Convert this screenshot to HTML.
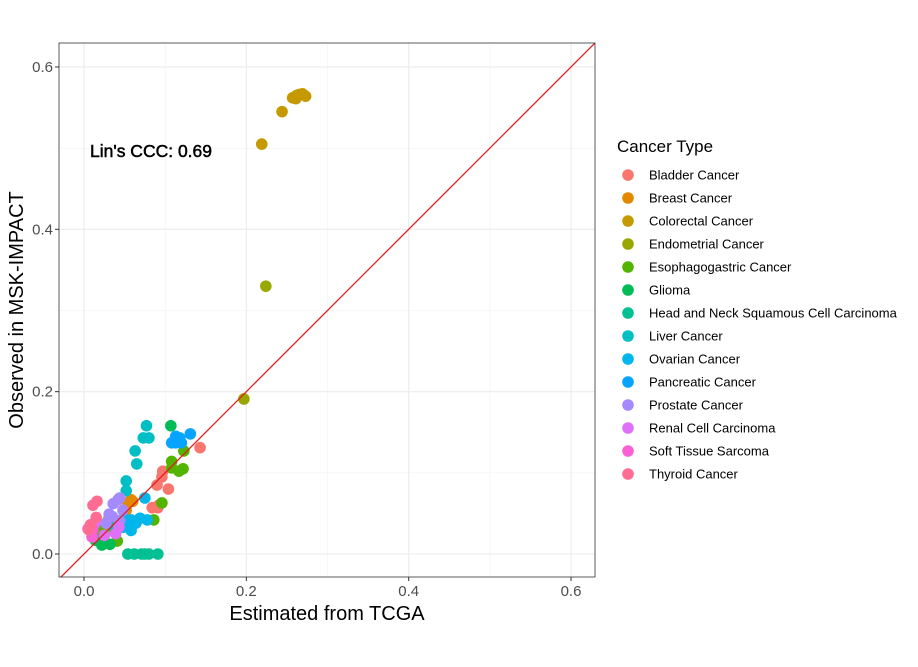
<!DOCTYPE html>
<html><head><meta charset="utf-8"><style>
body{margin:0;background:#fff;}
svg{display:block;font-family:"Liberation Sans",Arial,sans-serif;}
</style></head><body>
<svg id="chart" width="918" height="667"></svg>
<script>
const categories=["Bladder Cancer","Breast Cancer","Colorectal Cancer","Endometrial Cancer","Esophagogastric Cancer","Glioma","Head and Neck Squamous Cell Carcinoma","Liver Cancer","Ovarian Cancer","Pancreatic Cancer","Prostate Cancer","Renal Cell Carcinoma","Soft Tissue Sarcoma","Thyroid Cancer"];
const colors=["#F8766D","#E38900","#C49A00","#99A800","#53B400","#00BC56","#00C094","#00BFC4","#00B6EB","#06A4FF","#A58AFF","#DF70F8","#FB61D7","#FF6C91"];
const xTicks=[0,0.2,0.4,0.6];
const yTicks=[0,0.2,0.4,0.6];
const tickLabels=["0.0","0.2","0.4","0.6"];
const pts0=[[0.143,0.131],[0.097,0.102],[0.104,0.080],[0.090,0.085],[0.084,0.057],[0.091,0.057],[0.096,0.095],[0.092,0.060]];
const pts1=[[0.054,0.063],[0.058,0.067],[0.052,0.054],[0.025,0.032],[0.060,0.065]];
const pts2=[[0.219,0.505],[0.244,0.545],[0.257,0.562],[0.262,0.565],[0.265,0.566],[0.269,0.567],[0.273,0.564],[0.261,0.561]];
const pts3=[[0.224,0.330],[0.197,0.191],[0.030,0.042],[0.037,0.030],[0.020,0.026]];
const pts4=[[0.086,0.042],[0.096,0.063],[0.108,0.106],[0.117,0.102],[0.122,0.105],[0.123,0.127],[0.108,0.114],[0.041,0.016],[0.020,0.030]];
const pts5=[[0.107,0.158],[0.014,0.017],[0.022,0.011],[0.032,0.012],[0.010,0.021]];
const pts6=[[0.054,0],[0.062,0],[0.071,0],[0.075,0],[0.080,0],[0.091,0],[0.037,0.033]];
const pts7=[[0.073,0.143],[0.080,0.143],[0.077,0.158],[0.063,0.127],[0.065,0.111],[0.052,0.090],[0.052,0.078],[0.058,0.042]];
const pts8=[[0.075,0.069],[0.078,0.042],[0.069,0.044],[0.057,0.041],[0.049,0.044],[0.048,0.033],[0.064,0.038],[0.058,0.029]];
const pts9=[[0.131,0.148],[0.113,0.145],[0.118,0.143],[0.111,0.139],[0.120,0.137],[0.113,0.137],[0.108,0.137]];
const pts10=[[0.036,0.062],[0.042,0.067],[0.044,0.069],[0.035,0.046],[0.031,0.049],[0.048,0.054],[0.044,0.041],[0.027,0.038]];
const pts11=[[0.013,0.037],[0.015,0.044],[0.006,0.030],[0.025,0.023],[0.039,0.025],[0.043,0.033]];
const pts12=[[0.005,0.031],[0.011,0.030],[0.010,0.021]];
const pts13=[[0.011,0.060],[0.016,0.065],[0.015,0.045],[0.006,0.030],[0.008,0.036]];
const series=[pts0,pts1,pts2,pts3,pts4,pts5,pts6,pts7,pts8,pts9,pts10,pts11,pts12,pts13];

const NS="http://www.w3.org/2000/svg";
const svg=document.getElementById('chart');
const L=59,T=43,R=595,B=577;
const sx=v=>84+v*811.7, sy=v=>554-v*811.7;
function mk(t,a,p){const e=document.createElementNS(NS,t);for(const k in a)e.setAttribute(k,a[k]);(p||svg).appendChild(e);return e;}
const panel=mk('rect',{x:L,y:T,width:R-L,height:B-T,fill:'#fff'});


[0.1,0.3,0.5].forEach(v=>{mk('line',{x1:sx(v),x2:sx(v),y1:T,y2:B,stroke:'#f2f2f2','stroke-width':0.6});mk('line',{x1:L,x2:R,y1:sy(v),y2:sy(v),stroke:'#f2f2f2','stroke-width':0.6});});
xTicks.forEach((v,i)=>{
  mk('line',{x1:sx(v),x2:sx(v),y1:T,y2:B,stroke:'#ebebeb','stroke-width':1.1});
  mk('line',{x1:sx(v),x2:sx(v),y1:B,y2:B+4,stroke:'#333','stroke-width':1});
  const t=mk('text',{x:sx(v),y:B+19,'text-anchor':'middle','font-size':15,fill:'#4d4d4d'});t.textContent=tickLabels[i];
  
  
});
yTicks.forEach((v,i)=>{
  mk('line',{x1:L,x2:R,y1:sy(v),y2:sy(v),stroke:'#ebebeb','stroke-width':1.1});
  mk('line',{x1:L-4,x2:L,y1:sy(v),y2:sy(v),stroke:'#333','stroke-width':1});
  const t=mk('text',{x:L-6,y:sy(v)+5,'text-anchor':'end','font-size':15,fill:'#4d4d4d'});t.textContent=tickLabels[i];
  
  
});
series.forEach((s,ci)=>s.forEach(p=>{
  const c=mk('circle',{cx:sx(p[0]),cy:sy(p[1]),r:5.8,fill:colors[ci]});
  
  
}));
const cp=mk('clipPath',{id:'clp'});mk('rect',{x:L,y:T,width:R-L,height:B-T},cp);
const ln=mk('line',{x1:sx(-0.1),y1:sy(-0.1),x2:sx(0.7),y2:sy(0.7),stroke:'#E41A1C','stroke-width':1.3,'clip-path':'url(#clp)'});


mk('rect',{x:L,y:T,width:R-L,height:B-T,fill:'none',stroke:'#333','stroke-width':0.8});
const ann=mk('text',{x:90,y:157,'text-anchor':'start','font-size':17.5,fill:'#000',stroke:'#000','stroke-width':0.5});ann.textContent="Lin's CCC: 0.69";


const xt=mk('text',{x:327,y:620,'text-anchor':'middle','font-size':20,fill:'#000'});xt.textContent='Estimated from TCGA';


const yt=mk('text',{x:0,y:0,'text-anchor':'middle','font-size':20,fill:'#000',transform:'translate(23,310) rotate(-90)'});yt.textContent='Observed in MSK-IMPACT';


const lt=mk('text',{x:617,y:152,'font-size':17,fill:'#000'});lt.textContent='Cancer Type';


categories.forEach((c,i)=>{
  const g=mk('g',{});
  
  
  const y=175+i*23;
  mk('circle',{cx:628,cy:y,r:5.8,fill:colors[i]},g);
  const t=mk('text',{x:649,y:y+4.5,'font-size':13,fill:'#000'},g);t.textContent=c;
});
</script>
</body></html>
